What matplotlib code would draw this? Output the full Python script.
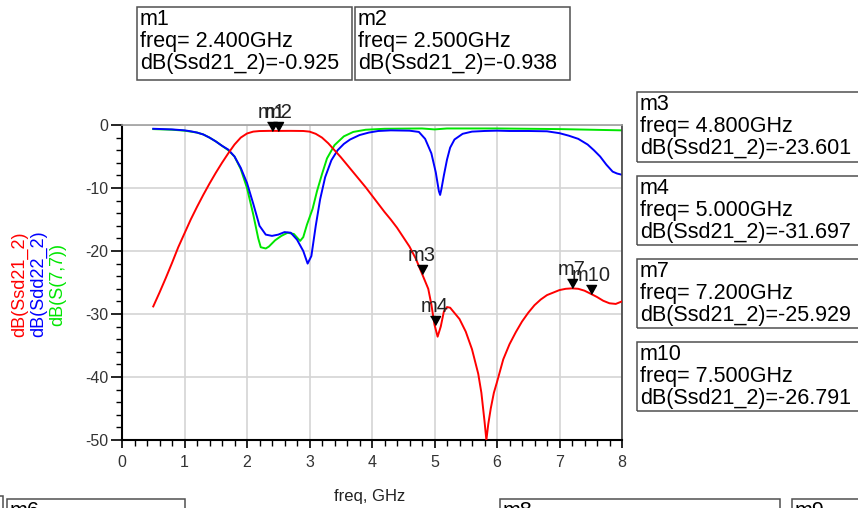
import numpy as np
import matplotlib.pyplot as plt
from matplotlib.patches import Rectangle
from matplotlib.ticker import MultipleLocator

plt.rcParams['font.family'] = ['Liberation Sans', 'DejaVu Sans']
plt.rcParams['axes.unicode_minus'] = False

# dB(Ssd21_2)
f_s21 = [0.50, 0.60, 0.70, 0.80, 0.90, 1.00, 1.10, 1.20, 1.30, 1.40, 1.50, 1.60,
         1.70, 1.80, 1.90, 2.00, 2.10, 2.20, 2.40, 2.50, 2.70, 2.90, 3.00, 3.10,
         3.20, 3.30, 3.40, 3.50, 3.60, 3.70, 3.80, 3.90, 4.00, 4.10, 4.20, 4.30,
         4.40, 4.50, 4.60, 4.70, 4.80, 4.90, 4.95, 5.00, 5.05, 5.10, 5.15, 5.20,
         5.25, 5.30, 5.40, 5.50, 5.60, 5.70, 5.75, 5.80, 5.83, 5.86, 5.90, 5.95,
         6.00, 6.10, 6.20, 6.30, 6.40, 6.50, 6.60, 6.70, 6.80, 6.90, 7.00, 7.10,
         7.20, 7.30, 7.40, 7.50, 7.60, 7.70, 7.80, 7.90, 8.00]
s21 = [-28.8, -26.6, -24.3, -21.9, -19.4, -17.2, -15.0, -13.0, -11.1, -9.3, -7.6, -6.0,
       -4.5, -3.1, -2.0, -1.35, -1.05, -0.96, -0.925, -0.938, -0.93, -0.95, -1.05, -1.4,
       -2.0, -2.9, -4.0, -5.1, -6.3, -7.5, -8.7, -9.9, -11.2, -12.5, -13.8, -15.0,
       -16.3, -17.8, -19.3, -21.2, -23.6, -26.0, -28.5, -31.7, -33.6, -32.0, -29.6, -28.9,
       -29.0, -29.6, -30.8, -32.8, -35.6, -39.5, -42.5, -47.0, -50.0, -47.5, -45.0, -42.5,
       -40.8, -37.2, -34.8, -32.9, -31.2, -29.8, -28.6, -27.7, -27.0, -26.6, -26.2, -26.0,
       -25.93, -26.0, -26.3, -26.79, -27.3, -27.9, -28.3, -28.4, -28.0]

# dB(Sdd22_2)
f_s22 = [0.50, 0.80, 1.00, 1.10, 1.20, 1.30, 1.40, 1.50, 1.60, 1.70, 1.80, 1.90,
         2.00, 2.10, 2.20, 2.30, 2.40, 2.50, 2.60, 2.70, 2.80, 2.90, 2.97, 3.03,
         3.10, 3.17, 3.25, 3.35, 3.45, 3.55, 3.65, 3.80, 3.95, 4.10, 4.30, 4.60,
         4.75, 4.85, 4.95, 5.02, 5.07, 5.09, 5.11, 5.15, 5.20, 5.25, 5.32, 5.45,
         5.60, 5.80, 6.00, 6.20, 6.50, 6.80, 7.00, 7.15, 7.30, 7.45, 7.55, 7.65,
         7.75, 7.85, 7.92, 8.00]
s22 = [-0.6, -0.7, -0.85, -1.0, -1.2, -1.5, -2.0, -2.6, -3.3, -3.9, -5.0, -6.8,
       -9.2, -12.5, -16.0, -17.4, -17.6, -17.4, -17.0, -17.1, -18.2, -20.0, -22.0, -20.8,
       -16.0, -11.8, -8.3, -5.6, -4.0, -3.0, -2.3, -1.6, -1.2, -0.95, -0.85, -0.9,
       -1.1, -2.2, -4.5, -7.5, -10.5, -11.1, -10.2, -8.0, -5.5, -3.6, -2.3, -1.4,
       -1.05, -0.95, -0.9, -0.95, -0.95, -1.0, -1.3, -1.7, -2.2, -3.1, -4.0, -5.0,
       -6.3, -7.4, -7.7, -7.9]

# dB(S(7,7))
f_s77 = [0.50, 0.80, 1.00, 1.10, 1.20, 1.30, 1.40, 1.50, 1.60, 1.70, 1.80, 1.90,
         2.00, 2.10, 2.18, 2.22, 2.30, 2.35, 2.45, 2.55, 2.65, 2.75, 2.85, 2.90,
         2.96, 3.05, 3.12, 3.20, 3.28, 3.40, 3.55, 3.70, 3.90, 4.20, 4.80, 5.00,
         5.20, 6.00, 6.50, 7.00, 7.50, 8.00]
s77 = [-0.65, -0.75, -0.9, -1.05, -1.2, -1.5, -2.0, -2.6, -3.3, -4.0, -5.0, -7.0,
       -10.0, -14.2, -18.0, -19.4, -19.6, -19.3, -18.3, -17.6, -17.1, -17.3, -18.4, -17.8,
       -15.8, -13.3, -10.5, -7.8, -5.3, -3.2, -1.8, -1.1, -0.75, -0.6, -0.55, -0.7,
       -0.55, -0.55, -0.6, -0.65, -0.75, -0.85]

# markers on dB(Ssd21_2)
mk_names = ['m1', 'm2', 'm3', 'm4', 'm7', 'm10']
mk_freq = [2.4, 2.5, 4.8, 5.0, 7.2, 7.5]
mk_val = [-0.925, -0.938, -23.601, -31.697, -25.929, -26.791]

W, H = 858, 508


def px(x, y):
    return x / W, 1 - y / H


fig = plt.figure(figsize=(W / 100, H / 100), dpi=100)
ax = fig.add_axes([122 / W, 68 / H, 500 / W, 315 / H])

ax.plot(f_s21, s21, color='#ff0000', lw=1.4, zorder=3)
ax.plot(f_s22, s22, color='#0000ff', lw=1.4, zorder=2)
ax.plot(f_s77, s77, color='#00e600', lw=1.4, zorder=1)

tri = [(-1, 1.8), (1, 1.8), (0, 0)]
ax.plot(mk_freq, mk_val, ls='none', marker=tri, ms=13, color='black',
        clip_on=False, zorder=4)
for n, fq, v in zip(mk_names, mk_freq, mk_val):
    ax.annotate(n, (fq, v), xytext=(0, 6.5), textcoords='offset points',
                ha='center', va='bottom', fontsize=14.5, color='#222222',
                annotation_clip=False)

ax.set_xlim(0, 8)
ax.set_ylim(-50, 0)
ax.xaxis.set_major_locator(MultipleLocator(1))
ax.xaxis.set_minor_locator(MultipleLocator(0.2))
ax.yaxis.set_major_locator(MultipleLocator(10))
ax.yaxis.set_minor_locator(MultipleLocator(2))
ax.grid(True, which='major', color='#d4d4d4', lw=1.2)
ax.set_axisbelow(True)
ax.tick_params(axis='both', which='major', direction='out', width=1.2,
               labelsize=11.5, labelcolor='#333333')
ax.tick_params(axis='both', which='minor', direction='out', width=1.0)
ax.tick_params(axis='x', which='major', length=5.5, pad=5)
ax.tick_params(axis='x', which='minor', length=4)
ax.tick_params(axis='y', which='major', length=8, pad=2)
ax.tick_params(axis='y', which='minor', length=4.5)
ax.spines['left'].set_linewidth(1.5)
ax.spines['bottom'].set_linewidth(1.5)
ax.spines['top'].set_color('#a0a0a0')
ax.spines['right'].set_color('#404040')
ax.spines['top'].set_linewidth(1.2)
ax.spines['right'].set_linewidth(1.2)

fig.text(*px(370, 496), 'freq, GHz', ha='center', va='center', fontsize=12,
         color='#222222')

ylabels = ['dB(Ssd21_2)', 'dB(Sdd22_2)', 'dB(S(7,7))']
ycolors = ['#ff0000', '#0000ff', '#00e600']
for i, (lab, c) in enumerate(zip(ylabels, ycolors)):
    fig.text(*px(20 + 19 * i, 284), lab, rotation=90, ha='center', va='center',
             fontsize=13, color=c)


def box(x0, y0, w, h, txt):
    fig.add_artist(Rectangle(px(x0, y0 + h), w / W, h / H, transform=fig.transFigure,
                             fill=False, ec='#505050', lw=1.1))
    if txt:
        fig.text(*px(x0 + 3, y0 + 2), txt, ha='left', va='top', fontsize=15.5,
                 linespacing=1.05, color='black')


def mk_text(i):
    return '{}\nfreq= {:.3f}GHz\ndB(Ssd21_2)={:.3f}'.format(
        mk_names[i], mk_freq[i], mk_val[i])


box(137, 7, 215, 73, mk_text(0))
box(355, 7, 215, 73, mk_text(1))
box(637, 92, 260, 70, mk_text(2))
box(637, 176, 260, 69, mk_text(3))
box(637, 259, 260, 69, mk_text(4))
box(637, 342, 260, 69, mk_text(5))

# boxes cut off at the bottom edge
box(-100, 496, 103, 80, '')
box(7, 499, 178, 80, 'm6')
box(500, 499, 280, 80, 'm8')
box(792, 499, 200, 80, 'm9')

fig.savefig('out.png', dpi=100)
